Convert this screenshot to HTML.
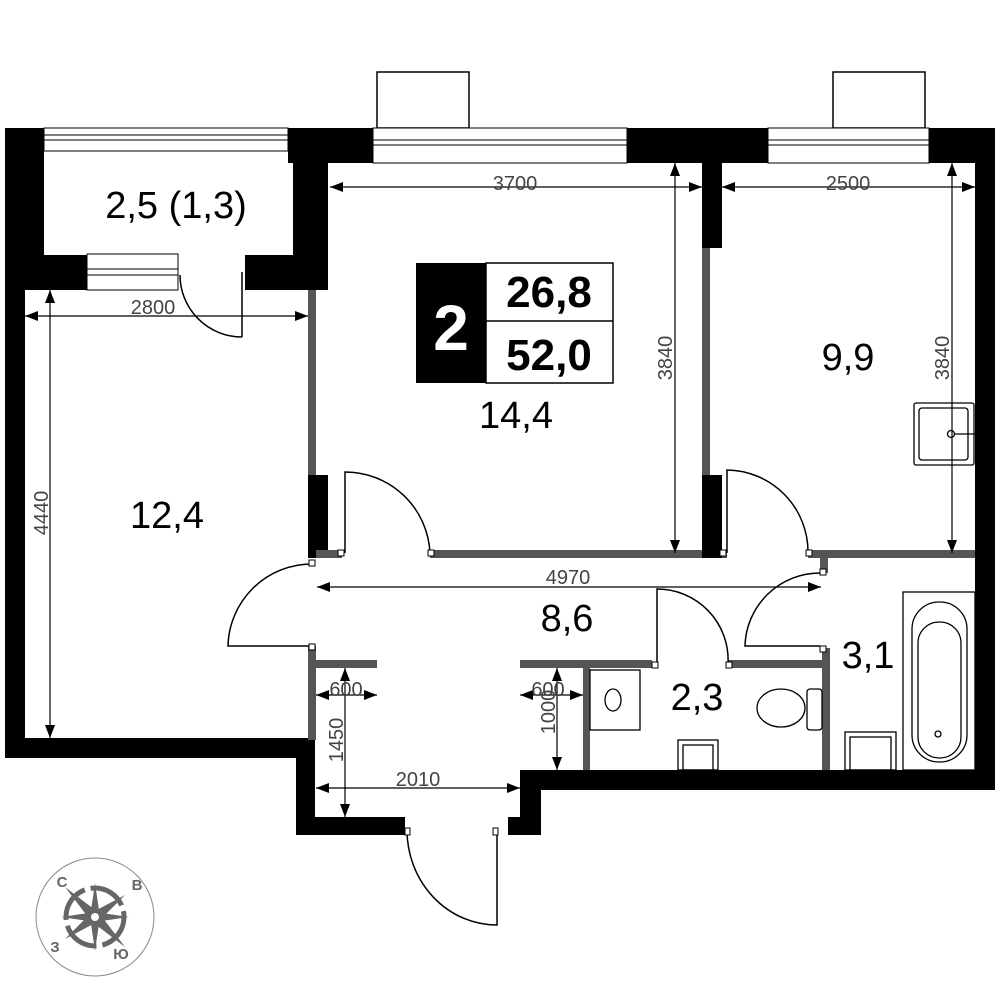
<!DOCTYPE html>
<html><head><meta charset="utf-8"><style>
html,body{margin:0;padding:0;background:#fff;}
svg{display:block;}
text{font-family:"Liberation Sans","DejaVu Sans",sans-serif;}
</style></head><body>
<svg width="1000" height="1000" viewBox="0 0 1000 1000" xmlns="http://www.w3.org/2000/svg">
<defs>
<marker id="ah" markerWidth="14" markerHeight="10" refX="13" refY="5" orient="auto-start-reverse" markerUnits="userSpaceOnUse"><path d="M0,0 L13,5 L0,10 z" fill="#000"/></marker>
</defs>
<rect width="1000" height="1000" fill="#fff"/>

<rect x="377" y="72" width="92" height="56" fill="#fff" stroke="#000" stroke-width="1.5"/>
<rect x="833" y="72" width="92" height="56" fill="#fff" stroke="#000" stroke-width="1.5"/>

<g fill="#000">
<rect x="5" y="128" width="39" height="162"/>
<rect x="5" y="290" width="20" height="468"/>
<rect x="5" y="738" width="310" height="20"/>
<rect x="296" y="740" width="19" height="95"/>
<rect x="296" y="817" width="109" height="18"/>
<rect x="508" y="817" width="33" height="18"/>
<rect x="520" y="770" width="21" height="65"/>
<rect x="520" y="770" width="475" height="20"/>
<rect x="975" y="128" width="20" height="662"/>
<rect x="929" y="128" width="66" height="35"/>
<rect x="627" y="128" width="141" height="35"/>
<rect x="288" y="128" width="85" height="35"/>
<rect x="293" y="128" width="35" height="162"/>
<rect x="44" y="255" width="43" height="35"/>
<rect x="245" y="255" width="83" height="35"/>
<rect x="702" y="163" width="20" height="85"/>
<rect x="702" y="475" width="20" height="83"/>
<rect x="308" y="475" width="20" height="83"/>
</g>

<g fill="#fff" stroke="#000" stroke-width="1">
<rect x="44" y="128" width="244" height="23"/>
<line x1="44" y1="135" x2="288" y2="135"/><line x1="44" y1="140" x2="288" y2="140"/>
<rect x="373" y="128" width="254" height="35"/>
<line x1="373" y1="140" x2="627" y2="140"/><line x1="373" y1="145" x2="627" y2="145"/>
<rect x="768" y="128" width="161" height="35"/>
<line x1="768" y1="140" x2="929" y2="140"/><line x1="768" y1="145" x2="929" y2="145"/>
<rect x="87" y="254" width="91" height="36"/>
<line x1="87" y1="269" x2="178" y2="269"/><line x1="87" y1="275" x2="178" y2="275"/>
</g>

<g fill="#555">
<rect x="308" y="290" width="8" height="185"/>
<rect x="702" y="248" width="8" height="227"/>
<rect x="316" y="550" width="26" height="8"/>
<rect x="430" y="550" width="272" height="8"/>
<rect x="722" y="550" width="5" height="8"/>
<rect x="808" y="550" width="167" height="8"/>
<rect x="820" y="558" width="8" height="15"/>
<rect x="308" y="646" width="8" height="94"/>
<rect x="316" y="660" width="61" height="8"/>
<rect x="520" y="660" width="132" height="8"/>
<rect x="728" y="660" width="98" height="8"/>
<rect x="583" y="668" width="7" height="102"/>
<rect x="822" y="648" width="8" height="122"/>
</g>

<g fill="none" stroke="#000" stroke-width="1.5">
<path d="M242,337 L242,272 M180,275 A62,62 0 0 0 242,337"/>
<path d="M345,553 L345,472 A85,85 0 0 1 430,553"/>
<path d="M727,553 L727,470 A82,82 0 0 1 808,553"/>
<path d="M312,564 A84,84 0 0 0 228,646 L312,646"/>
<path d="M820,646 L745,646 A75,75 0 0 1 820,573"/>
<path d="M657,664 L657,589 A71,71 0 0 1 728,664"/>
<path d="M497,830 L497,925 A90,95 0 0 1 407,830"/>
</g>
<g fill="#fff" stroke="#000" stroke-width="1">
<rect x="338" y="550" width="6" height="6"/><rect x="428" y="550" width="6" height="6"/>
<rect x="720" y="550" width="6" height="6"/><rect x="806" y="550" width="6" height="6"/>
<rect x="309" y="560" width="6" height="6"/><rect x="309" y="644" width="6" height="6"/>
<rect x="820" y="569" width="6" height="6"/><rect x="820" y="646" width="6" height="6"/>
<rect x="652" y="662" width="6" height="6"/><rect x="726" y="662" width="6" height="6"/>
<rect x="405" y="828" width="5" height="7"/><rect x="493" y="828" width="5" height="7"/>
</g>

<g fill="none" stroke="#000" stroke-width="1.3">
<rect x="590" y="670" width="50" height="60"/>
<ellipse cx="613" cy="700" rx="8" ry="11"/>
<ellipse cx="781" cy="708" rx="24" ry="19"/>
<rect x="807" y="689" width="15" height="41" rx="3"/>
<rect x="678" y="740" width="40" height="30"/><rect x="683" y="745" width="30" height="25"/>
<rect x="845" y="732" width="51" height="38"/><rect x="850" y="737" width="41" height="33"/>
<rect x="903" y="592" width="72" height="178"/>
<rect x="912" y="602" width="55" height="160" rx="27"/>
<rect x="918" y="622" width="43" height="136" rx="21"/>
<circle cx="938" cy="734" r="3"/>
<rect x="914" y="403" width="60" height="62" rx="2"/><rect x="919" y="408" width="49" height="52" rx="3"/>
<circle cx="951" cy="434" r="3.5"/><line x1="955" y1="434" x2="975" y2="434"/>
</g>

<g stroke="#000" stroke-width="1.2" fill="none" marker-start="url(#ah)" marker-end="url(#ah)">
<line x1="330" y1="187" x2="702" y2="187"/>
<line x1="722" y1="187" x2="975" y2="187"/>
<line x1="675" y1="163" x2="675" y2="553"/>
<line x1="952" y1="163" x2="952" y2="553"/>
<line x1="25" y1="316" x2="308" y2="316"/>
<line x1="50" y1="290" x2="50" y2="738"/>
<line x1="317" y1="587" x2="821" y2="587"/>
<line x1="316" y1="695" x2="377" y2="695"/>
<line x1="345" y1="668" x2="345" y2="817"/>
<line x1="316" y1="788" x2="520" y2="788"/>
<line x1="520" y1="695" x2="583" y2="695"/>
<line x1="557" y1="668" x2="557" y2="770"/>
</g>
<g fill="#444" font-size="20">
<text x="515" y="190" text-anchor="middle">3700</text>
<text x="848" y="190" text-anchor="middle">2500</text>
<text x="153" y="314" text-anchor="middle">2800</text>
<text x="568" y="584" text-anchor="middle">4970</text>
<text x="346" y="696" text-anchor="middle">600</text>
<text x="548" y="696" text-anchor="middle">600</text>
<text x="418" y="786" text-anchor="middle">2010</text>
<text transform="translate(672,358) rotate(-90)" text-anchor="middle">3840</text>
<text transform="translate(949,358) rotate(-90)" text-anchor="middle">3840</text>
<text transform="translate(48,513) rotate(-90)" text-anchor="middle">4440</text>
<text transform="translate(343,740) rotate(-90)" text-anchor="middle">1450</text>
<text transform="translate(555,712) rotate(-90)" text-anchor="middle">1000</text>
</g>

<g fill="#000" font-size="38" text-anchor="middle">
<text x="176" y="218">2,5 (1,3)</text>
<text x="516" y="428">14,4</text>
<text x="848" y="370">9,9</text>
<text x="167" y="528">12,4</text>
<text x="567" y="631">8,6</text>
<text x="697" y="710">2,3</text>
<text x="868" y="668">3,1</text>
</g>

<rect x="416" y="263" width="70" height="120" fill="#000"/>
<rect x="486" y="263" width="127" height="120" fill="#fff" stroke="#000" stroke-width="1.5"/>
<line x1="486" y1="321" x2="613" y2="321" stroke="#000" stroke-width="1.5"/>
<text x="451" y="350" fill="#fff" font-size="64" font-weight="bold" text-anchor="middle">2</text>
<text x="549" y="307" font-size="44" font-weight="bold" text-anchor="middle">26,8</text>
<text x="549" y="370" font-size="44" font-weight="bold" text-anchor="middle">52,0</text>

<g transform="translate(95,917)">
<circle r="59" fill="none" stroke="#888" stroke-width="1"/>
<circle r="29" fill="none" stroke="#666" stroke-width="5" stroke-dasharray="38 6"/>
<path d="M-30,-30 L4,-4 L-4,4 z M30,30 L-4,4 L4,-4 z M30,-22 L4,4 L-4,-4 z M-30,22 L-4,-4 L4,4 z" fill="#666"/>
<path d="M0,-34 L5,0 L0,34 L-5,0 z M-34,0 L0,-5 L34,0 L0,5 z" fill="#666"/>
<circle r="8" fill="#666"/><circle r="4" fill="#fff"/>
<g fill="#666" font-size="15" font-weight="bold" text-anchor="middle">
<text x="-33" y="-30">С</text><text x="42" y="-27">В</text>
<text x="-40" y="35">З</text><text x="26" y="42">Ю</text>
</g>
</g>
</svg>
</body></html>
